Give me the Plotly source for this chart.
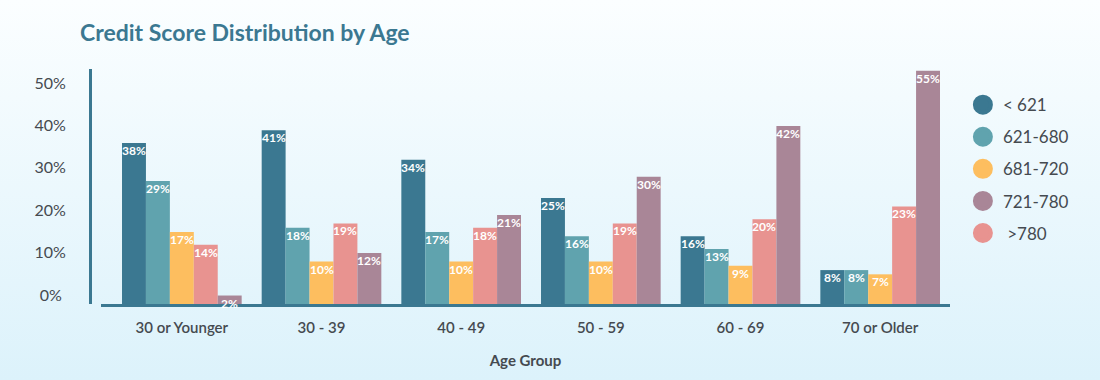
import base64
import plotly.graph_objects as go

# ---- data ----
categories = ["30 or Younger", "30 - 39", "40 - 49", "50 - 59", "60 - 69", "70 or Older"]
series_names = ["< 621", "621-680", "681-720", " >780", "721-780"]   # bar order within each group
legend_order = ["< 621", "621-680", "681-720", "721-780", " >780"]
lt621 = [38, 41, 34, 25, 16, 8]
s621_680 = [29, 18, 17, 16, 13, 8]
s681_720 = [17, 10, 10, 10, 9, 7]
gt780 = [14, 19, 18, 19, 20, 23]
s721_780 = [2, 12, 21, 30, 42, 55]
series_values = [lt621, s621_680, s681_720, gt780, s721_780]
y_ticks = [0, 10, 20, 30, 40, 50]
y_tick_labels = ["0%\u2005", "10%", "20%", "30%", "40%", "50%"]

colors = {
    "< 621": "#3b7891",
    "621-680": "#60a3ae",
    "681-720": "#fdbe5f",
    " >780": "#e89390",
    "721-780": "#a98697",
}

W, H = 1100, 380
ML, MR, MT, MB = 90, 150, 69, 76
PW, PH = W - ML - MR, H - MT - MB
BARGAP = 20 / 139.6
CAT_PX = 139.6
BAR_PX = CAT_PX * (1 - BARGAP) / len(series_names)

fig = go.Figure()
for i, (name, vals) in enumerate(zip(series_names, series_values)):
    fig.add_trace(go.Bar(
        x=categories, y=vals, name=name,
        marker=dict(color=colors[name], line=dict(width=0)),
        showlegend=False, hoverinfo="x+y",
    ))
    # value labels at the top inside each bar
    for c, v in zip(categories, vals):
        fig.add_annotation(
            x=c, y=v, xref="x", yref="y", text=f"{v}%", showarrow=False,
            xanchor="center", yanchor="top", yshift=2,
            xshift=(i - (len(series_names) - 1) / 2) * BAR_PX,
            font=dict(family="Lato", size=12, color="white", weight=700),
        )

# legend entries as circles
for i, name in enumerate(legend_order):
    fig.add_trace(go.Scatter(
        x=[None], y=[None], mode="markers", name=name,
        marker=dict(color=colors[name], size=16, line=dict(color=colors[name], width=4)),
        legendgroup=name, legendrank=i + 1, showlegend=True,
    ))

svg = (
    '<svg xmlns="http://www.w3.org/2000/svg" width="1100" height="380">'
    '<defs><linearGradient id="g" x1="0" y1="0" x2="0" y2="1">'
    '<stop offset="0" stop-color="#fbfeff"/><stop offset="1" stop-color="#dcf2fb"/>'
    '</linearGradient></defs><rect width="1100" height="380" fill="url(#g)"/></svg>'
)
src = "data:image/svg+xml;base64," + base64.b64encode(svg.encode()).decode()
fig.add_layout_image(dict(
    source=src, xref="paper", yref="paper",
    x=-ML / PW, y=1 + MT / PH, sizex=W / PW, sizey=H / PH,
    xanchor="left", yanchor="top", sizing="stretch", layer="below",
))

fig.update_layout(
    width=W, height=H,
    margin=dict(l=ML, r=MR, t=MT, b=MB, pad=0),
    paper_bgcolor="#eef9fd", plot_bgcolor="rgba(0,0,0,0)",
    barmode="group", bargap=BARGAP, bargroupgap=0,
    font=dict(family="Lato", color="#454a50"),
    title=dict(text="<b>Credit Score Distribution by Age</b>", x=80 / W, xanchor="left",
               y=1 - 33 / H, yanchor="middle", xref="container", yref="container",
               font=dict(family="Lato", size=23, color="#3b7891")),
    legend=dict(x=1.015, y=0.923, xanchor="left", yanchor="top",
                font=dict(family="Lato", size=17, color="#454a50"),
                tracegroupgap=7, bgcolor="rgba(0,0,0,0)", itemclick=False),
    xaxis=dict(
        domain=[11 / PW, 1], range=[-0.5 - 11 / CAT_PX, 5.5],
        showline=True, linecolor="#3b7891", linewidth=3,
        showgrid=False, zeroline=False, ticks="",
        tickfont=dict(family="Lato", size=15, color="#454a50", weight=600),
        ticklabelstandoff=8,
        title=dict(text="Age Group", standoff=21,
                   font=dict(family="Lato", size=15, color="#454a50", weight=700)),
    ),
    yaxis=dict(
        anchor="free", position=0, range=[0, PH / 4.24],
        showline=True, linecolor="#3b7891", linewidth=3,
        showgrid=False, zeroline=False, ticks="",
        tickvals=y_ticks, ticktext=y_tick_labels,
        tickfont=dict(family="Lato", size=16, color="#454a50"),
        ticklabelstandoff=20, ticklabelshift=-9,
    ),
)

fig.write_html("out.html", config={"displayModeBar": False},
               post_script="document.body.style.margin='0px';")
